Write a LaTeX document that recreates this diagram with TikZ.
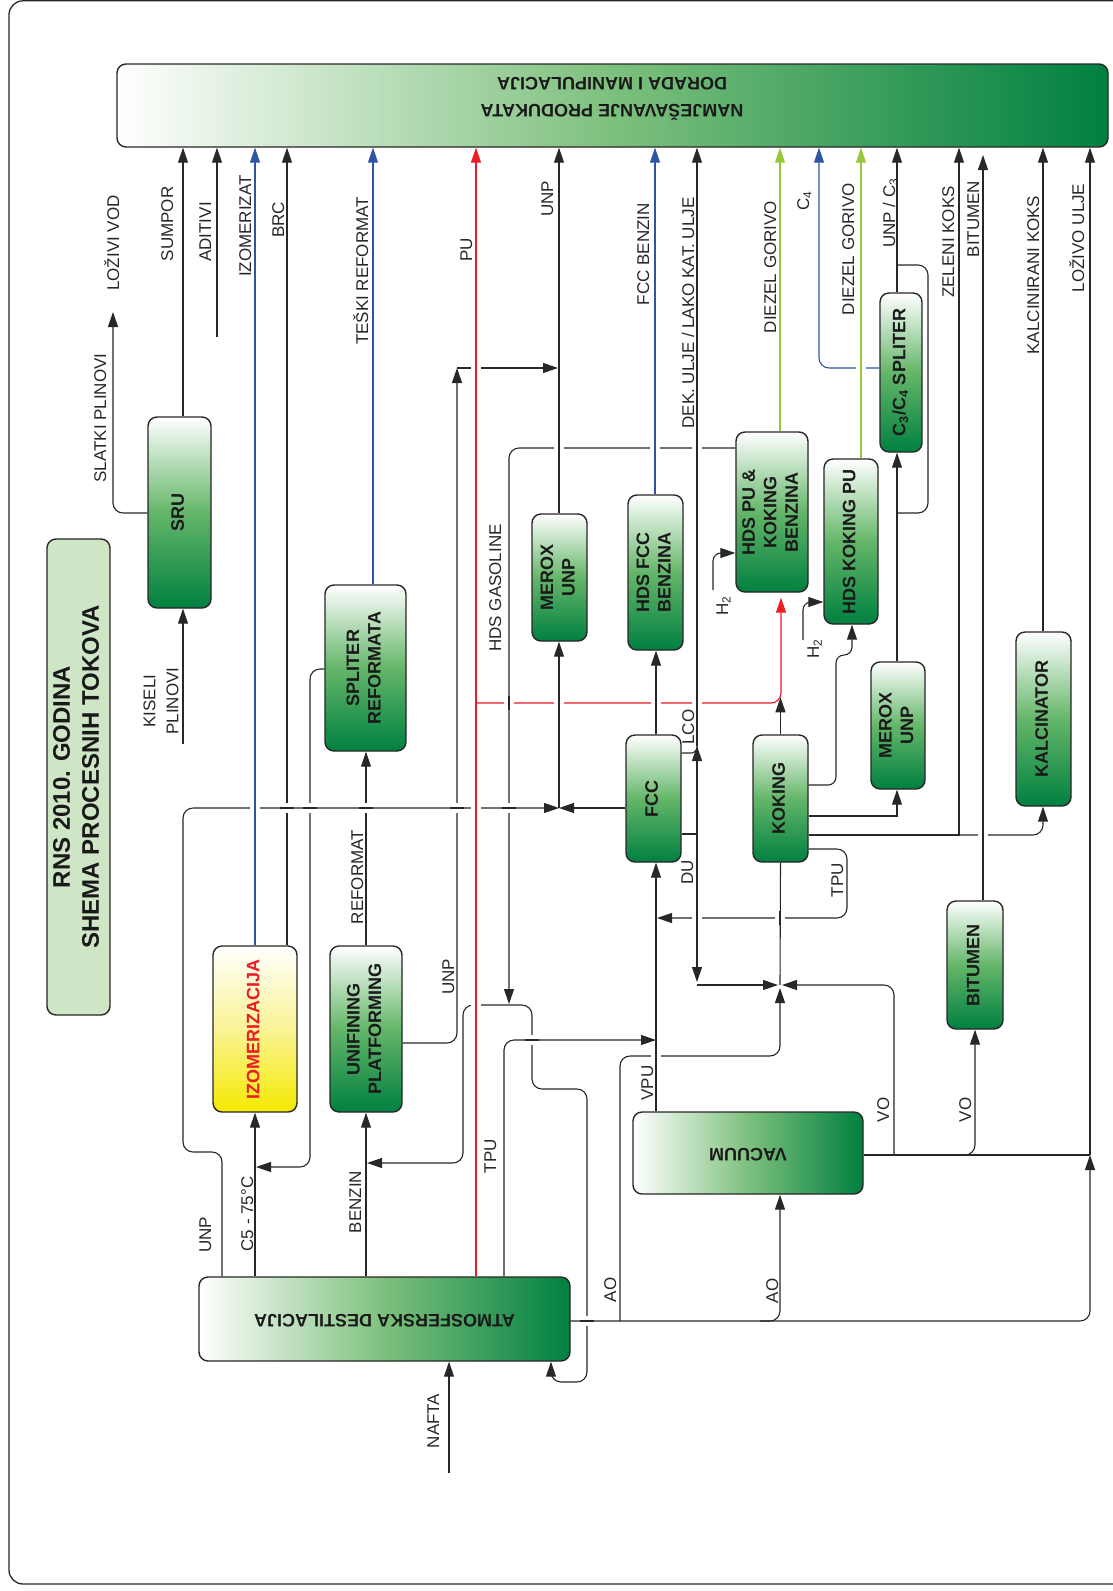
\documentclass[tikz,border=0pt]{standalone}
\usepackage{graphicx}
\usepackage{fontspec}
\setmainfont{Liberation Sans}
\usetikzlibrary{arrows.meta}
\definecolor{dkg}{RGB}{0,128,64}
\definecolor{mdg}{RGB}{100,182,105}
\definecolor{hmg}{RGB}{125,192,125}
\definecolor{lnc}{RGB}{40,38,38}
\definecolor{bl}{RGB}{46,84,166}
\definecolor{rd}{RGB}{237,28,36}
\definecolor{lg}{RGB}{150,200,60}
\definecolor{ttl}{RGB}{206,230,198}
\definecolor{yel}{RGB}{245,233,0}
\definecolor{ylm}{RGB}{250,244,150}
\newcommand\rtx[1]{\rotatebox{90}{\begin{tabular}{@{}c@{}}#1\end{tabular}}}
\newcommand\rtxx[1]{\rotatebox{180}{\begin{tabular}{@{}c@{}}#1\end{tabular}}}
\newcommand\bx[7]{\node[#6, minimum width={(#4)-(#2)}, minimum height={(#5)-(#3)}] (#1) at ({((#2)+(#4))/2},{((#3)+(#5))/2}) {#7};}
\newcommand\xv[3]{\draw[white,line width=3.5pt] ({#1-5},#2) -- ({#1+5},#2); \draw[#3,line width=1.1pt] (#1,{#2-7}) -- (#1,{#2+7});}
\newcommand\xh[3]{\draw[white,line width=3.5pt] (#1,{#2-5}) -- (#1,{#2+5}); \draw[#3,line width=1.1pt] ({#1-7},#2) -- ({#1+7},#2);}
\tikzset{
  box/.style={draw=lnc, line width=1.4pt, rounded corners=9pt, inner sep=0pt, text=black!90, font=\fontsize{18}{21.5}\selectfont\bfseries},
  vbox/.style={box, top color=white, bottom color=dkg, middle color=mdg},
  hbox/.style={box, left color=white, right color=dkg, middle color=hmg},
  ln/.style={draw=lnc, line width=1.1pt},
  arr/.style={ln, -{Triangle[length=15pt,width=10pt]}},
  lbl/.style={rotate=90, font=\fontsize{17}{20}\selectfont, text=lnc, inner sep=0pt, text height=12.3pt, text depth=0pt},
}
\begin{document}
\begin{tikzpicture}[x=1pt,y=-1pt]
\useasboundingbox (0,0) rectangle (1113,1591);
\draw[lnc,line width=1.3pt,rounded corners=14pt] (9,0.8) rectangle (1135,1584);

% ---------- boxes
\bx{top}{117}{64}{1108}{147}{hbox}{}
\node[rotate=180, inner sep=0pt, align=center, text=black!90, font=\fontsize{18}{27}\selectfont\bfseries] (toptext) at (612,99) {NAMJEŠAVANJE PRODUKATA\\DORADA I MANIPULACIJA};
\bx{title}{47}{539}{110}{1015}{box,fill=ttl,font=\fontsize{24}{29}\selectfont\bfseries}{\rtx{RNS 2010. GODINA\\SHEMA PROCESNIH TOKOVA}}
\bx{sru}{148}{417}{211}{608}{vbox}{\rtx{SRU}}
\bx{splr}{325}{585}{406}{751}{vbox}{\rtx{SPLITER\\REFORMATA}}
\bx{izo}{213}{946}{297}{1112}{box,top color=white,bottom color=yel,middle color=ylm,text=rd}{\rtx{IZOMERIZACIJA}}
\bx{unif}{330}{946}{402}{1112}{vbox}{\rtx{UNIFINING\\PLATFORMING}}
\bx{atm}{199}{1277}{570}{1361}{hbox}{\rtxx{ATMOSFERSKA DESTILACIJA}}
\bx{vac}{633}{1112}{863}{1194}{hbox}{\rtxx{VACUUM}}
\bx{merox1}{532}{514}{587}{641}{vbox}{\rtx{MEROX\\UNP}}
\bx{hdsfcc}{628}{495}{683}{650}{vbox}{\rtx{HDS FCC\\BENZINA}}
\bx{fcc}{626}{735}{681}{862}{vbox}{\rtx{FCC}}
\bx{kok}{753}{735}{808}{862}{vbox}{\rtx{KOKING}}
\bx{hdspu}{736}{432}{808}{592}{vbox}{\rtx{HDS PU \&\\KOKING\\BENZINA}}
\bx{hdskpu}{824}{459}{878}{624}{vbox}{\rtx{HDS KOKING PU}}
\bx{c3c4}{880}{293}{922}{452}{vbox}{\rtx{C\textsubscript{3}/C\textsubscript{4} SPLITER}}
\bx{merox2}{871}{662}{925}{789}{vbox}{\rtx{MEROX\\UNP}}
\bx{kalc}{1016}{632}{1071}{806}{vbox}{\rtx{KALCINATOR}}
\bx{bit}{947}{901}{1003}{1029}{vbox}{\rtx{BITUMEN}}

% ---------- free ends and junctions
\coordinate (cadit) at (217,337);
\coordinate (ckis) at (183,744);
\coordinate (cslat) at (113,312);
\coordinate (cnaf) at (449,1473);
\coordinate (ch2a) at (713,590);
\coordinate (ch2b) at (803,640);
\coordinate (cbit) at (983,155);
\coordinate (j1) at (559,808);
\coordinate (jl) at (1090,1155);

% ---------- connectors
\draw[arr] (sru.north -| 183,0) -- (top.south -| 183,0);
\draw[arr,rounded corners=10pt] (sru.west |- 0,513) -- (113,513) -- (cslat);
\draw[arr] (ckis) -- (sru.south -| ckis);
\draw[arr] (cadit) -- (top.south -| cadit);
\draw[arr,draw=bl] (izo.north) -- (top.south -| izo.north);
\draw[arr] (izo.north -| 287,0) -- (top.south -| 287,0);
\draw[arr,draw=bl] (splr.north -| 373,0) -- (top.south -| 373,0);
\draw[arr] (unif.north) -- (splr.south -| unif.north);
\draw[arr] (atm.north -| unif.south) -- (unif.south);
\draw[arr] (atm.north -| izo.south) -- (izo.south);
\draw[arr,rounded corners=10pt] (atm.north -| 222,0) -- (222,1152) -- (183,1152) -- (183,808) -- (j1);
\draw[arr] (fcc.west |- j1) -- (j1);
\draw[arr] (j1) -- (merox1.south -| j1);
\draw[arr] (merox1.north -| j1) -- (top.south -| j1);
\draw[arr,rounded corners=10pt] (unif.east |- 0,1043) -- (457,1043) -- (457,368);
\draw[arr] (457,368) -- (558,368);
\draw[arr,draw=rd] (atm.north -| 476,0) -- (top.south -| 476,0);
\draw[arr,draw=rd,rounded corners=10pt,shorten >=5pt] (476,703) -- (781,703) -- (hdspu.south -| 781,0);
\draw[arr] (kok.north) -- ++(0,-37);
\draw[arr,draw=lg] (hdspu.north -| 780,0) -- (top.south -| 780,0);
\draw[arr,rounded corners=10pt] (hdspu.west |- 0,448) -- (509,448) -- (509,1004);
\draw[arr,rounded corners=10pt] (509,1005) -- (463,1005) -- (463,1163) -- (367,1163);
\draw[arr,rounded corners=10pt] (509,1005) -- (532,1005) -- (532,1089) -- (587,1089) -- (587,1382) -- (551,1382) -- (atm.south -| 551,0);
\draw[arr,rounded corners=10pt] (splr.west |- 0,669) -- (310,669) -- (310,1167) -- (256,1167);
\draw[arr,rounded corners=10pt] (atm.north -| 504,0) -- (504,1040) -- (656,1040);
\draw[arr] (vac.north -| 656,0) -- (fcc.south -| 656,0);
\draw[arr,rounded corners=10pt] (atm.east |- 0,1321) -- (1090,1321) -- (jl);
\draw[arr] (jl) -- (top.south -| jl);
\draw[arr,rounded corners=10pt] (760,1321) -- (780,1321) -- (vac.south -| 780,0);
\draw[arr,rounded corners=10pt] (620,1321) -- (620,1056) -- (780,1056) -- (780,988);
\draw[ln] (vac.east |- jl) -- (jl);
\draw[arr,rounded corners=10pt] (894,1155) -- (894,985) -- (782,985);
\draw[arr,rounded corners=10pt] (950,1155) -- (975,1155) -- (bit.south);
\draw[arr] (697,762) -- (697,746);
\draw[arr] (697,746) -- (top.south -| 697,0);
\draw[arr] (697,757) -- (697,982);
\draw[arr] (697,985) -- (778,985);
\draw[ln,rounded corners=6pt] (fcc.east |- 0,753) -- (697,753) -- (697,745);
\draw[ln] (fcc.east |- 0,834) -- (697,834);
\draw[ln] (780,985) -- (kok.south);
\draw[arr,rounded corners=8pt] (kok.east |- 0,785) -- (836,785) -- (836,655) -- (852,655) -- (hdskpu.south -| 852,0);
\draw[arr] (kok.east |- 0,816) -- (897,816) -- (merox2.south -| 897,0);
\draw[arr] (kok.east |- 0,835) -- (959,835) -- (top.south -| 959,0);
\draw[arr,rounded corners=10pt] (959,835) -- (1043,835) -- (kalc.south -| 1043,0);
\draw[arr,rounded corners=10pt] (kok.east |- 0,849) -- (847,849) -- (847,918) -- (657,918);
\draw[arr] (merox2.north -| 897,0) -- (c3c4.south -| 897,0);
\draw[arr] (c3c4.north -| 897,0) -- (top.south -| 897,0);
\draw[ln,rounded corners=10pt] (897,513) -- (928,513) -- (928,265) -- (897,265);
\draw[arr,draw=bl,rounded corners=10pt] (c3c4.west |- 0,368) -- (819,368) -- (top.south -| 819,0);
\draw[arr,draw=lg] (hdskpu.north -| 861,0) -- (top.south -| 861,0);
\draw[arr,rounded corners=8pt] (ch2a) -- (713,553) -- (hdspu.west |- 0,553);
\draw[arr,rounded corners=8pt] (ch2b) -- (803,602) -- (hdskpu.west |- 0,602);
\draw[arr] (fcc.north -| 656,0) -- (hdsfcc.south -| 656,0);
\draw[arr,draw=bl] (hdsfcc.north -| 655,0) -- (top.south -| 655,0);
\draw[arr] (bit.north -| cbit) -- (cbit);
\draw[arr] (kalc.north -| 1043,0) -- (top.south -| 1043,0);
\draw[arr] (cnaf) -- (atm.south -| cnaf);

% ---------- crossings
\xh{287}{808}{lnc} \xh{310}{808}{lnc} \xh{366}{808}{lnc} \xh{457}{808}{lnc} \xh{509}{808}{lnc}
\xv{255}{808}{bl} \xv{476}{808}{rd} \xv{476}{368}{rd} \xv{476}{1005}{rd}
\xv{559}{448}{lnc} \xv{655}{448}{bl} \xv{697}{448}{lnc}
\xv{509}{703}{lnc} \xv{559}{703}{lnc} \xv{656}{703}{lnc} \xv{697}{703}{lnc}
\xv{861}{368}{lg}
\xv{983}{835}{lnc}
\xv{697}{918}{lnc} \xv{780}{918}{lnc}
\xh{587}{1321}{lnc} \xh{532}{1040}{lnc} \xv{656}{1056}{lnc}

% ---------- labels
\node[lbl] (l01) at (167,224) {SUMPOR};
\node[lbl] (l02) at (113,243) {LOŽIVI VOD};
\node[lbl] (l03) at (100,418) {SLATKI PLINOVI};
\node[lbl] (l04) at (205,232) {ADITIVI};
\node[lbl] (l05) at (245,226) {IZOMERIZAT};
\node[lbl] (l06) at (278,220) {BRC};
\node[lbl] (l07) at (362,271) {TEŠKI REFORMAT};
\node[lbl] (l08) at (466,250) {PU};
\node[lbl] (l09) at (547,199) {UNP};
\node[lbl] (l10) at (643,254) {FCC BENZIN};
\node[lbl] (l11) at (688,313) {DEK. ULJE / LAKO KAT. ULJE};
\node[lbl] (l12) at (770,267) {DIEZEL GORIVO};
\node[lbl] (l13) at (803,201) {C\textsubscript{4}};
\node[lbl] (l14) at (848,249) {DIEZEL GORIVO};
\node[lbl] (l15) at (889,213) {UNP / C\textsubscript{3}};
\node[lbl] (l16) at (948,242) {ZELENI KOKS};
\node[lbl] (l17) at (973,219) {BITUMEN};
\node[lbl] (l18) at (1033,275) {KALCINIRANI KOKS};
\node[lbl] (l19) at (1078,238) {LOŽIVO ULJE};
\node[rotate=90, font=\fontsize{17}{23}\selectfont, text=lnc, inner sep=0pt, align=center] (l20) at (161,701) {KISELI\\PLINOVI};
\node[lbl] (l21) at (495,588) {HDS GASOLINE};
\node[lbl] (l22) at (448,977) {UNP};
\node[lbl] (l23) at (357,877) {REFORMAT};
\node[lbl] (l24) at (688,727) {LCO};
\node[lbl] (l25) at (687,872) {DU};
\node[lbl] (l26) at (837,880) {TPU};
\node[lbl] (l27) at (647,1083) {VPU};
\node[lbl] (l28) at (490,1156) {TPU};
\node[lbl] (l29) at (205,1235) {UNP};
\node[lbl] (l30) at (247,1214) {C5 - 75°C};
\node[lbl] (l31) at (355,1202) {BENZIN};
\node[lbl] (l32) at (610,1290) {AO};
\node[lbl] (l33) at (772,1291) {AO};
\node[lbl] (l34) at (883,1110) {VO};
\node[lbl] (l35) at (965,1110) {VO};
\node[lbl] (l36) at (433,1421) {NAFTA};
\node[lbl] (l37) at (722,606) {H\textsubscript{2}};
\node[lbl] (l38) at (813,649) {H\textsubscript{2}};
\end{tikzpicture}
\end{document}
